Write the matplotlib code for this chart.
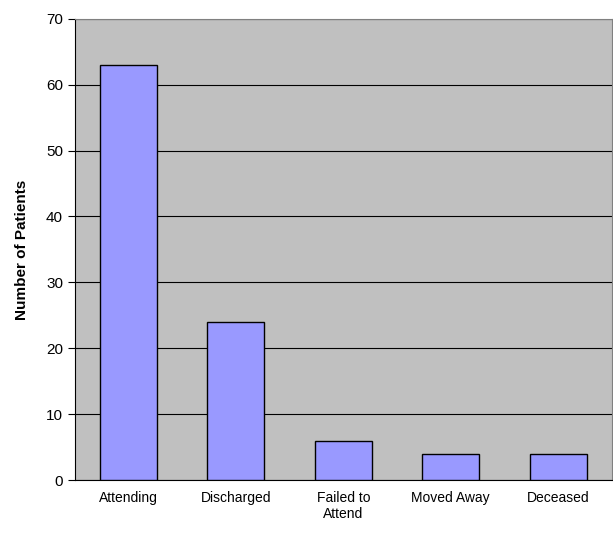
import matplotlib
matplotlib.use("Agg")
from matplotlib import pyplot as plt

categories = ["Attending", "Discharged", "Failed to\nAttend", "Moved Away", "Deceased"]
patients = [63, 24, 6, 4, 4]

plt.rcParams['font.family'] = ['Liberation Sans', 'DejaVu Sans']
fig = plt.figure(figsize=(6.13, 5.37), dpi=100)
ax = fig.add_axes([0.122, 0.106, 0.876, 0.859])
ax.set_facecolor('#C0C0C0')

xs = list(range(len(categories)))
ax.bar(xs, patients, width=0.53, color='#9999FF', edgecolor='black', linewidth=1, zorder=3)

ax.set_xlim(-0.5, len(categories) - 0.5)
ax.set_ylim(0, 70)
ax.set_yticks(range(0, 71, 10))
ax.yaxis.grid(True, color='black', linewidth=0.8, zorder=0)
ax.set_xticks(xs)
ax.set_xticklabels(categories, fontsize=10)
ax.tick_params(axis='y', labelsize=11, direction='out', length=5)
ax.tick_params(axis='x', length=0, pad=8)
for s in ['top', 'right']:
    ax.spines[s].set_color('#808080')
ax.set_ylabel("Number of Patients", fontsize=11, fontweight='bold', labelpad=12)

fig.savefig("out.png", dpi=100)
